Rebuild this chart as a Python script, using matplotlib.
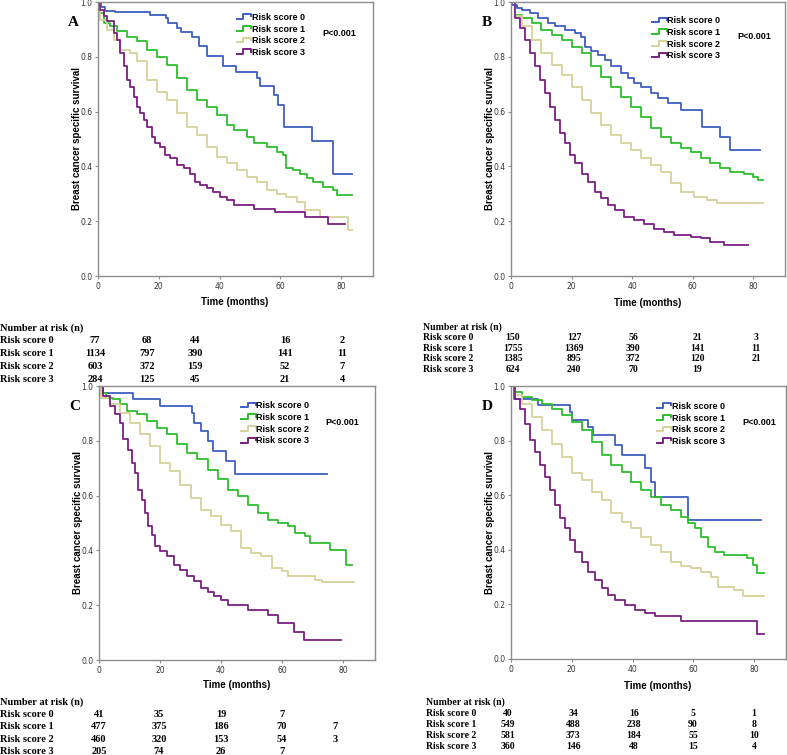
import matplotlib
matplotlib.use('Agg')
import matplotlib.pyplot as plt
from matplotlib.lines import Line2D
from matplotlib.legend_handler import HandlerBase

# ---- data (step points: time in months, survival) ----
labels = ['Risk score 0', 'Risk score 1', 'Risk score 2', 'Risk score 3']
colors = ['#3f5fc0', '#2dbe2d', '#d7d29a', '#7a1f82']
time_ticks = [0, 20, 40, 60, 80]

a_t0 = [0, 1, 2.2, 5.7, 17, 22.4, 23, 26, 27.3, 31, 33.3, 36, 41, 45.5, 52.3, 53.4, 57.8, 59.2, 61.3, 70.4, 77.5, 83.5]
a_s0 = [1.0, 0.98, 0.966, 0.963, 0.951, 0.94, 0.923, 0.905, 0.889, 0.874, 0.84, 0.804, 0.767, 0.746, 0.722, 0.694, 0.661, 0.624, 0.545, 0.493, 0.372, 0.372]
a_t1 = [0, 0.8, 1.9, 4, 6.2, 9.5, 12.8, 16, 19.4, 22.7, 26, 29.3, 32.5, 35.8, 39, 42.4, 44.6, 49, 51.2, 55.6, 58.8, 61, 62, 64.3, 66.5, 68.7, 70.9, 74.2, 77.5, 78.8, 83.5]
a_s1 = [1.0, 0.96, 0.923, 0.911, 0.893, 0.874, 0.856, 0.826, 0.80, 0.771, 0.722, 0.679, 0.643, 0.618, 0.588, 0.551, 0.533, 0.509, 0.484, 0.472, 0.454, 0.441, 0.393, 0.387, 0.374, 0.356, 0.344, 0.326, 0.313, 0.295, 0.295]
a_t2 = [0, 0.8, 3, 5.2, 7.3, 10.6, 12.8, 16, 19.4, 22.7, 26, 29.3, 32.5, 35.8, 39, 42.4, 45.7, 49, 52.3, 55.6, 58.8, 62, 65.4, 68.2, 73, 82.4, 83.5]
a_s2 = [1.0, 0.935, 0.899, 0.862, 0.826, 0.813, 0.783, 0.716, 0.673, 0.643, 0.594, 0.545, 0.515, 0.472, 0.435, 0.411, 0.387, 0.362, 0.344, 0.313, 0.301, 0.289, 0.271, 0.240, 0.216, 0.167, 0.167]
a_t3 = [0, 0.8, 1.9, 3, 5.2, 6.2, 7.3, 8.4, 9.5, 10.6, 11.7, 12.8, 13.9, 15, 16, 17.8, 18.8, 20.5, 22, 23.8, 26, 28.2, 30.4, 32, 33.6, 35.8, 38, 40.2, 42.4, 44.6, 51.2, 58.3, 68.2, 75.8, 81.3]
a_s3 = [1.0, 0.972, 0.948, 0.929, 0.887, 0.862, 0.813, 0.765, 0.716, 0.691, 0.655, 0.618, 0.594, 0.57, 0.545, 0.509, 0.484, 0.472, 0.441, 0.429, 0.405, 0.393, 0.374, 0.344, 0.332, 0.32, 0.307, 0.289, 0.277, 0.259, 0.243, 0.234, 0.216, 0.188, 0.188]

b_t0 = [0, 0.3, 2, 3.6, 6.3, 9, 12.3, 14.5, 17.8, 21, 23.2, 24.3, 26.5, 28.7, 30.9, 33, 36.3, 38.5, 40.7, 43, 46.2, 48.4, 51.7, 56, 63, 69.1, 72.2, 82.2]
b_s0 = [1.0, 0.99, 0.978, 0.97, 0.96, 0.941, 0.923, 0.911, 0.899, 0.887, 0.874, 0.837, 0.82, 0.807, 0.789, 0.765, 0.74, 0.722, 0.704, 0.691, 0.667, 0.649, 0.63, 0.606, 0.545, 0.509, 0.46, 0.46]
b_t1 = [0, 1.4, 3.6, 6.9, 10, 13.4, 16.7, 20, 23.3, 26.5, 29.8, 33, 36.4, 39.6, 42.9, 46.2, 49.5, 52.7, 56, 59.3, 62.6, 65.8, 69, 72.4, 76.8, 80, 81.6, 83.3]
b_s1 = [1.0, 0.954, 0.941, 0.923, 0.899, 0.88, 0.862, 0.837, 0.813, 0.765, 0.728, 0.691, 0.655, 0.618, 0.582, 0.539, 0.509, 0.484, 0.466, 0.454, 0.429, 0.411, 0.393, 0.38, 0.374, 0.362, 0.35, 0.35]
b_t2 = [0, 1.4, 3.6, 6.9, 10, 13.4, 16.7, 20, 23.3, 26.5, 29.8, 33, 36.4, 39.6, 42.9, 46.2, 49.5, 52.7, 56, 60.4, 64.7, 68, 83.3]
b_s2 = [1.0, 0.948, 0.911, 0.862, 0.813, 0.771, 0.734, 0.691, 0.643, 0.594, 0.551, 0.515, 0.484, 0.46, 0.429, 0.405, 0.38, 0.338, 0.307, 0.289, 0.277, 0.265, 0.265]
b_t3 = [0, 1.4, 3, 4.7, 6.3, 8, 9.6, 11.2, 12.9, 14.5, 16.2, 17.8, 19.4, 21, 23.3, 25.4, 27.6, 29.8, 32, 34.2, 37.4, 40.7, 44, 47.3, 50.5, 53.8, 59.3, 62.6, 65.8, 70.2, 78.4]
b_s3 = [1.0, 0.941, 0.905, 0.862, 0.813, 0.765, 0.716, 0.667, 0.618, 0.57, 0.521, 0.484, 0.441, 0.411, 0.374, 0.344, 0.307, 0.283, 0.259, 0.24, 0.216, 0.204, 0.191, 0.173, 0.161, 0.149, 0.143, 0.137, 0.124, 0.112, 0.112]

c_t0 = [0, 1.3, 11.3, 20.1, 30.4, 31.2, 33.4, 35.6, 37.5, 41.8, 44.6, 74.8]
c_s0 = [1.0, 0.976, 0.951, 0.927, 0.902, 0.866, 0.835, 0.799, 0.762, 0.726, 0.679, 0.679]
c_t1 = [0, 0.8, 2.4, 4.6, 6.9, 9.1, 12.4, 15.7, 19, 22.3, 25.6, 28.9, 32.2, 35.6, 38.9, 42.2, 45.5, 48.8, 52.2, 55.5, 58.8, 62.1, 64.3, 67.6, 69.3, 75.9, 80.9, 83.1]
c_s1 = [1.0, 0.976, 0.957, 0.951, 0.933, 0.909, 0.896, 0.872, 0.848, 0.823, 0.787, 0.756, 0.732, 0.695, 0.659, 0.622, 0.598, 0.567, 0.537, 0.512, 0.5, 0.488, 0.463, 0.451, 0.427, 0.402, 0.348, 0.348]
c_t2 = [0, 0.8, 3.5, 6.9, 10.2, 13.5, 16.8, 20.1, 23.4, 26.7, 30.1, 33.4, 36.7, 40, 43.3, 46.6, 49.9, 53.2, 56.6, 59.9, 62.1, 70.9, 73.1, 83.6]
c_s2 = [1.0, 0.957, 0.933, 0.902, 0.866, 0.823, 0.78, 0.72, 0.689, 0.64, 0.591, 0.549, 0.524, 0.494, 0.47, 0.409, 0.39, 0.378, 0.335, 0.323, 0.305, 0.293, 0.284, 0.284]
c_t3 = [0, 1.3, 3.5, 5.2, 6.9, 8, 9.6, 10.7, 11.8, 12.9, 14, 15.1, 16.2, 17.3, 18.5, 20.1, 22.3, 24.5, 26.7, 29, 31.2, 33.4, 35.6, 37.8, 40, 42.2, 48.8, 55.5, 58.8, 63.8, 67.1, 79.2]
c_s3 = [1.0, 0.963, 0.927, 0.896, 0.866, 0.805, 0.768, 0.72, 0.683, 0.622, 0.585, 0.537, 0.488, 0.457, 0.415, 0.396, 0.378, 0.348, 0.329, 0.305, 0.287, 0.262, 0.25, 0.232, 0.22, 0.201, 0.183, 0.165, 0.134, 0.104, 0.073, 0.073]

d_t0 = [0, 0.9, 9, 19.4, 20, 25.4, 27.1, 34.2, 36.4, 44, 46.2, 47.3, 58.2, 82.2]
d_s0 = [1.0, 0.954, 0.93, 0.905, 0.875, 0.85, 0.82, 0.783, 0.747, 0.698, 0.649, 0.594, 0.509, 0.509]
d_t1 = [0, 1.4, 3.6, 6.9, 10.2, 13.4, 16.7, 20, 23.3, 26.5, 29.8, 33, 36.4, 39.6, 42.9, 46.2, 49.5, 52.7, 56, 58.2, 60.4, 62.6, 64.8, 67, 70.2, 77.8, 79.5, 81.1, 83.3]
d_s1 = [1.0, 0.978, 0.96, 0.948, 0.935, 0.917, 0.893, 0.868, 0.838, 0.795, 0.747, 0.71, 0.686, 0.649, 0.619, 0.594, 0.564, 0.545, 0.521, 0.497, 0.479, 0.448, 0.412, 0.393, 0.381, 0.369, 0.345, 0.314, 0.314]
d_t2 = [0, 1.4, 3.6, 6.9, 10.2, 13.4, 16.7, 20, 23.3, 26.5, 29.8, 33, 36.4, 39.6, 42.9, 46.2, 49.5, 52.7, 56, 59.3, 62.6, 65.8, 68, 73.5, 76.2, 83.3]
d_s2 = [1.0, 0.966, 0.935, 0.887, 0.838, 0.789, 0.741, 0.68, 0.655, 0.613, 0.582, 0.533, 0.503, 0.479, 0.448, 0.418, 0.393, 0.357, 0.339, 0.332, 0.317, 0.302, 0.265, 0.253, 0.232, 0.232]
d_t3 = [0, 1.4, 3, 4.7, 6.3, 8, 9.6, 11.2, 12.9, 14.5, 16.2, 17.8, 19.4, 21, 23.3, 25.4, 27.6, 29.8, 32, 34.2, 37.4, 40.7, 44, 47.3, 56, 81.1, 83.3]
d_s3 = [1.0, 0.954, 0.917, 0.862, 0.801, 0.759, 0.71, 0.667, 0.619, 0.564, 0.515, 0.479, 0.436, 0.393, 0.357, 0.32, 0.29, 0.259, 0.235, 0.217, 0.198, 0.18, 0.168, 0.156, 0.14, 0.093, 0.093]

# numbers at risk (columns at 0, 20, 40, 60, 80 months)
risk_a = [['77', '68', '44', '16', '2'], ['1134', '797', '390', '141', '11'],
          ['603', '372', '159', '52', '7'], ['284', '125', '45', '21', '4']]
risk_b = [['150', '127', '56', '21', '3'], ['1755', '1369', '390', '141', '11'],
          ['1385', '895', '372', '120', '21'], ['624', '240', '70', '19', '']]
risk_c = [['41', '35', '19', '7', ''], ['477', '375', '186', '70', '7'],
          ['460', '320', '153', '54', '3'], ['205', '74', '26', '7', '']]
risk_d = [['40', '34', '16', '5', '1'], ['549', '488', '238', '90', '8'],
          ['581', '373', '184', '55', '10'], ['360', '146', '48', '15', '4']]

W, H = 787, 755
SANS = ['Liberation Sans', 'DejaVu Sans']
SERIF = ['Liberation Serif', 'DejaVu Serif']


class StepHandler(HandlerBase):
    def create_artists(self, legend, orig_handle, xdescent, ydescent, width, height, fontsize, trans):
        x0, y0 = -xdescent, -ydescent
        xs = [x0, x0 + 0.45 * width, x0 + 0.45 * width, x0 + width, x0 + width]
        ys = [y0 + 0.15 * height, y0 + 0.15 * height, y0 + 0.9 * height, y0 + 0.9 * height, y0 + 0.55 * height]
        ln = Line2D(xs, ys, color=orig_handle.get_color(), lw=1.4, transform=trans)
        return [ln]


def px_rect(left, top, right, bottom):
    return [left / W, 1 - bottom / H, (right - left) / W, (bottom - top) / H]


fig = plt.figure(figsize=(W / 100, H / 100), dpi=100)


def km_panel(rect, letter, curves, leg_xy, p_xy):
    ax = fig.add_axes(rect)
    lines = []
    for (t, s), c, lab in zip(curves, colors, labels):
        ln, = ax.step(t, s, where='post', color=c, lw=1.3, label=lab)
        lines.append(ln)
    ax.set_xlim(0, 90.5)
    ax.set_ylim(0, 1.0)
    ax.set_xticks(time_ticks)
    ax.set_yticks([0.0, 0.2, 0.4, 0.6, 0.8, 1.0])
    ax.set_yticklabels(['0.0', '0.2', '0.4', '0.6', '0.8', '1.0'])
    for sp in ax.spines.values():
        sp.set_color('#8c8c8c')
        sp.set_linewidth(1.0)
    ax.tick_params(labelsize=5.5, length=2.5, width=0.8, color='#8c8c8c', pad=1.5, labelcolor='#333333')
    ax.set_ylabel('Breast cancer specific survival', fontsize=7, fontweight='bold', family=SANS, labelpad=-1)
    ax.legend(handles=lines, labels=labels, handler_map={Line2D: StepHandler()},
              loc='upper left', bbox_to_anchor=leg_xy, frameon=False,
              prop={'family': SANS, 'weight': 'bold', 'size': 6.5},
              handlelength=1.6, handletextpad=0.1, labelspacing=0.3, borderpad=0, borderaxespad=0)
    ax.text(p_xy[0], p_xy[1], 'P<0.001', transform=ax.transAxes, fontsize=6.5,
            fontweight='bold', family=SANS, va='center', ha='left')
    ax.text(-0.088, 0.925, letter, transform=ax.transAxes, fontsize=11, fontweight='bold',
            family=SERIF, ha='center', va='center')
    return ax


def risk_table(x_lab, y_title, dy, col_x, rows, fs, t_x, t_y):
    fig.text(t_x / W, 1 - t_y / H, 'Time (months)', fontsize=7, fontweight='bold', family=SANS,
             ha='center', va='center')
    fig.text(x_lab / W, 1 - y_title / H, 'Number at risk (n)', fontsize=fs, fontweight='bold',
             family=SERIF, ha='left', va='center')
    for i, (lab, vals) in enumerate(zip(labels, rows)):
        y = y_title + dy * (i + 1)
        fig.text(x_lab / W, 1 - y / H, lab, fontsize=fs, fontweight='bold', family=SERIF,
                 ha='left', va='center')
        for cx, v in zip(col_x, vals):
            fig.text(cx / W, 1 - y / H, v, fontsize=fs, fontweight='bold', family=SERIF,
                     ha='center', va='center')


km_panel(px_rect(98, 2, 373, 276), 'A',
         [(a_t0, a_s0), (a_t1, a_s1), (a_t2, a_s2), (a_t3, a_s3)],
         (0.505, 0.96), (0.815, 0.885))
km_panel(px_rect(511, 2, 785, 276), 'B',
         [(b_t0, b_s0), (b_t1, b_s1), (b_t2, b_s2), (b_t3, b_s3)],
         (0.515, 0.948), (0.825, 0.875))
km_panel(px_rect(99, 386, 375, 660), 'C',
         [(c_t0, c_s0), (c_t1, c_s1), (c_t2, c_s2), (c_t3, c_s3)],
         (0.515, 0.944), (0.82, 0.865))
km_panel(px_rect(511, 386, 786, 659), 'D',
         [(d_t0, d_s0), (d_t1, d_s1), (d_t2, d_s2), (d_t3, d_s3)],
         (0.53, 0.942), (0.84, 0.865))

risk_table(0, 328, 12.8, [95, 147, 195, 285, 342], risk_a, 7.5, 235, 302)
risk_table(423, 327, 10.6, [513, 574, 633, 697, 756], risk_b, 7, 648, 303)
risk_table(0, 702, 12.4, [99, 159, 221, 282, 335], risk_c, 7.5, 237, 685)
risk_table(426, 702, 11.2, [508, 573, 634, 693, 754], risk_d, 7, 658, 686)

fig.savefig('out.png', dpi=100)
